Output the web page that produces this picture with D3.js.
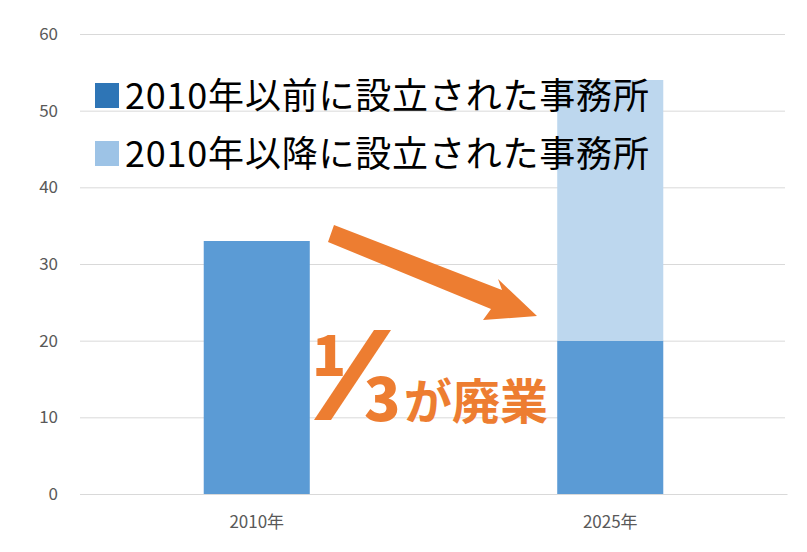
<!DOCTYPE html><html><head><meta charset="utf-8"><script src="https://cdn.jsdelivr.net/npm/d3@7"></script>
<style>body{margin:0;background:#fff}text{font-family:"Noto Sans CJK JP","Noto Sans",sans-serif}</style></head><body>
<svg id="c" width="807" height="552"></svg>
<script>
const categories=["2010年","2025年"];
const before2010=[33,20];
const after2010=[0,34];
const yTicks=[0,10,20,30,40,50,60];
const legendLabels=["2010年以前に設立された事務所","2010年以降に設立された事務所"];
const legendColors=["#2e75b6","#9dc3e6"];
const barColors=["#5b9bd5","#bdd7ee"];
const svg=d3.select("#c");
const x=d3.scaleBand().domain(categories).range([80,787]).paddingInner(0.7).paddingOuter(0.35);
const y=d3.scaleLinear().domain([0,60]).range([494,34]);
const gy=svg.append("g").attr("transform","translate(80,0)").call(d3.axisLeft(y).tickValues(yTicks).tickSize(-705).tickPadding(22));
gy.select(".domain").remove();
gy.selectAll("line").attr("stroke","#d9d9d9");
gy.selectAll("text").attr("font-size",17).attr("fill","#595959");
const gx=svg.append("g").attr("transform","translate(0,494)").call(d3.axisBottom(x).tickSize(0).tickPadding(22));
gx.select(".domain").attr("stroke","#d9d9d9");
gx.selectAll("text").attr("font-size",17).attr("fill","#595959");
const stack=d3.stack().keys(["a","b"])(categories.map((c,i)=>({c,a:before2010[i],b:after2010[i]})));
stack.forEach((s,k)=>svg.append("g").selectAll("rect").data(s).join("rect")
 .attr("x",d=>x(d.data.c)).attr("width",x.bandwidth())
 .attr("y",d=>y(d[1])).attr("height",d=>y(d[0])-y(d[1])).attr("fill",barColors[k]));
legendLabels.forEach((t,i)=>{
 const yy=83+i*58;
 svg.append("rect").attr("x",95).attr("y",yy).attr("width",24).attr("height",25).attr("fill",legendColors[i]);
 svg.append("text").attr("x",125).attr("y",yy+26).attr("font-size",36).attr("letter-spacing",0.8).attr("fill","#000").text(t);
});
const o="#ed7d31";
svg.append("path").attr("fill",o).attr("d","M334,225 L502,290 L498,279 L537,316 L483,320 L491,309 L328,242 Z");
svg.append("text").attr("x",312).attr("y",376).attr("font-size",56).attr("font-weight",900).attr("fill",o).attr("font-family","Noto Sans").text("1");
svg.append("path").attr("fill",o).attr("d","M374,330 L391,330 L331,420 L314,420 Z");
svg.append("text").attr("x",364).attr("y",421).attr("font-size",60).attr("font-weight",900).attr("fill",o).attr("font-family","Noto Sans").text("3");
svg.append("text").attr("x",404).attr("y",419).attr("font-size",48).attr("font-weight",700).attr("fill",o).text("が廃業");
</script></body></html>
